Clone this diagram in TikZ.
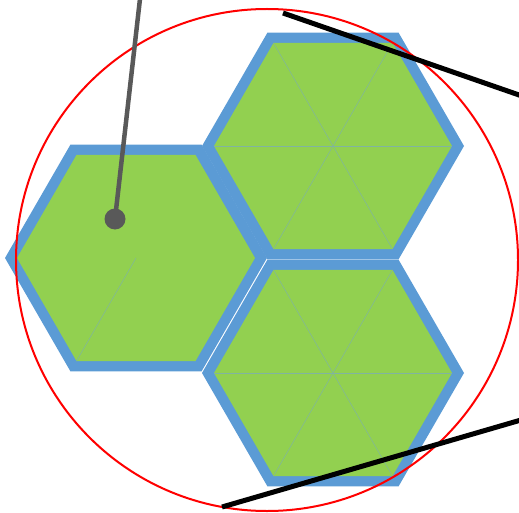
\documentclass[tikz,border=0pt]{standalone}
\definecolor{hexblue}{HTML}{5B9BD5}
\definecolor{hexgreen}{HTML}{92D050}
\definecolor{seam}{RGB}{128,180,160}
\definecolor{pingray}{HTML}{595959}
\begin{document}
\begin{tikzpicture}[x=1pt,y=-1pt,
  outerhex/.style={fill=hexblue},
  innerhex/.style={fill=hexgreen},
  seamline/.style={draw=seam,line width=0.5pt},
  ring/.style={draw=red,line width=2pt},
  blackbar/.style={draw=black,line width=5pt},
  pinline/.style={draw=pingray,line width=4.5pt},
  pinhead/.style={circle,fill=pingray,inner sep=0pt,minimum size=21pt}]
\useasboundingbox (0,0) rectangle (519,513);
\clip (0,0) rectangle (519,513);
\coordinate (hexL) at (136,258);
\coordinate (hexT) at (333,146);
\coordinate (hexB) at (333,373);
\foreach \c in {hexL,hexT,hexB}{
  \fill[outerhex] (\c) +(0:131) -- +(60:131) -- +(120:131) -- +(180:131) -- +(240:131) -- +(300:131) -- cycle;
  \fill[innerhex] (\c) +(0:119) -- +(60:119) -- +(120:119) -- +(180:119) -- +(240:119) -- +(300:119) -- cycle;
}
\foreach \c in {hexT,hexB}{
  \foreach \a in {0,60,...,300}{
    \draw[seamline] (\c) -- +(\a:119);
  }
}
\draw[seamline] (hexL) -- +(120:119);
\coordinate (ringc) at (267,260);
\draw[ring] (ringc) circle[radius=251pt];
\coordinate (b1s) at (283,13);
\coordinate (b1e) at (545,104);
\coordinate (b2s) at (222,507);
\coordinate (b2e) at (545,413);
\draw[blackbar] (b1s) -- (b1e);
\draw[blackbar] (b2s) -- (b2e);
\node[pinhead] (pin) at (115,219) {};
\coordinate (pintop) at (141,-10);
\draw[pinline] (pintop) -- (pin.center);
\end{tikzpicture}
\end{document}
